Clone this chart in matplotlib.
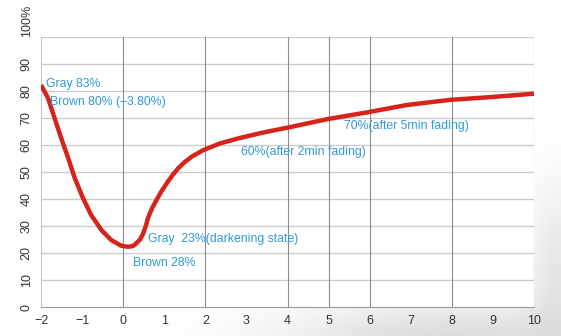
import numpy as np
import matplotlib.pyplot as plt

plt.rcParams['font.family'] = ['Liberation Sans', 'DejaVu Sans']

# curve (time in min, transmittance %)
t = [-2.0, -1.83, -1.67, -1.51, -1.34, -1.18, -0.98, -0.78, -0.53, -0.29,
     -0.05, 0.12, 0.24, 0.32, 0.41, 0.48, 0.55, 0.61, 0.71, 0.81, 0.93, 1.06,
     1.20, 1.34, 1.50, 1.67, 1.95, 2.36, 2.84, 3.40, 3.96, 4.98, 5.98, 6.90,
     7.95, 9.0, 10.0]
trans = [82.2, 77.4, 70.0, 62.6, 55.2, 47.8, 40.4, 34.1, 28.5, 24.8,
         22.7, 22.3, 22.6, 23.6, 25.0, 27.0, 30.0, 33.2, 36.8, 39.6, 42.8, 45.8,
         48.8, 51.4, 53.7, 55.7, 58.1, 60.6, 62.6, 64.6, 66.3, 69.6, 72.2, 74.8,
         76.7, 77.8, 79.0]

x_ticks = list(range(-2, 11))
x_grid = [0, 2, 4, 5, 6, 8, 10]
y_ticks = list(range(0, 101, 10))
y_labels = [str(v) for v in y_ticks[:-1]] + ['100%']

notes = [
    ("Gray 83%", -1.88, 82.6),
    ("Brown 80% (\u20133.80%)", -1.78, 76.0),
    ("Gray  23%(darkening state)", 0.60, 25.2),
    ("Brown 28%", 0.24, 16.3),
    ("60%(after 2min fading)", 2.86, 57.4),
    ("70%(after 5min fading)", 5.37, 67.0),
]

fig = plt.figure(figsize=(5.61, 3.36), dpi=100)

# soft grey backdrop at the bottom right
bg = fig.add_axes([0, 0, 1, 1], zorder=0)
yy, xx = np.mgrid[0:1:200j, 0:1:300j]
shade = np.exp(-(((xx - 0.8) / 0.3) ** 2 + ((yy + 0.02) / 0.12) ** 2))
shade += 0.7 * np.exp(-(((xx - 1.0) / 0.06) ** 2 + ((yy - 0.2) / 0.25) ** 2))
shade = np.clip(shade, 0, 1)
bg.imshow(1 - 0.14 * shade, cmap='gray', vmin=0, vmax=1, origin='lower',
          extent=[0, 1, 0, 1], aspect='auto')
bg.axis('off')

ax = fig.add_axes([0.0731, 0.0863, 0.8788, 0.8036], zorder=1)
ax.set_facecolor('white')
ax.set_xlim(-2, 10)
ax.set_ylim(0, 100)

ax.set_yticks(y_ticks)
ax.set_yticklabels(y_labels, rotation=90, va='center', fontsize=9, color='#333333')
ax.get_yticklabels()[-1].set_va('bottom')
ax.set_xticks(x_ticks)
ax.set_xticklabels([str(v).replace('-', '\u2212') for v in x_ticks], fontsize=9,
                   color='#333333')
ax.tick_params(length=0, pad=6)

for v in y_ticks[1:]:
    ax.axhline(v, color='#cccccc', lw=1.0, zorder=1)
for v in x_grid:
    ax.axvline(v, color='#8c8c8c', lw=0.8, zorder=1)

for side in ['top', 'right']:
    ax.spines[side].set_visible(False)
ax.spines['left'].set_color('#c8c8c8')
ax.spines['bottom'].set_color('#999999')

ax.plot(t, trans, color='#d8231b', lw=3.2, solid_capstyle='butt',
        solid_joinstyle='round', zorder=3)

for txt, x, y in notes:
    ax.text(x, y, txt, color='#2e9ad6', fontsize=8.8, ha='left', va='center', zorder=4)

fig.savefig('out.png', dpi=100)
